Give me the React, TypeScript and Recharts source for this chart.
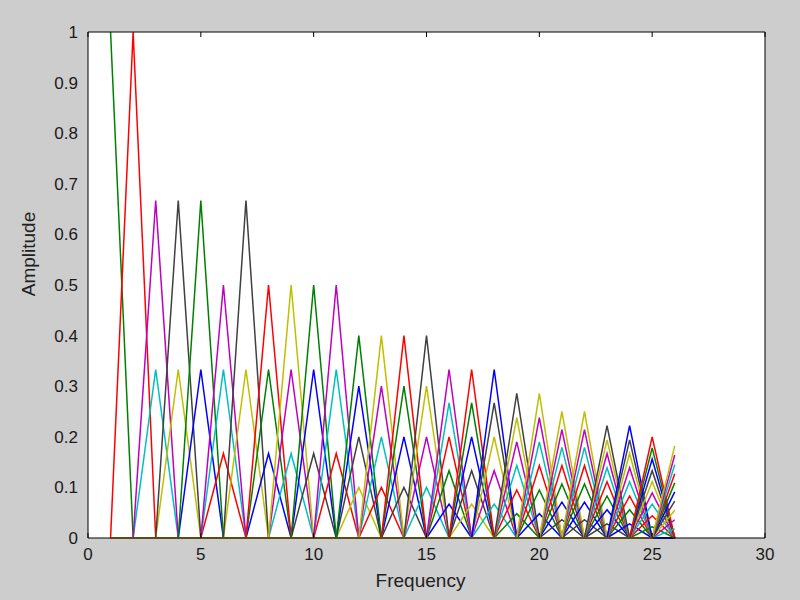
import { LineChart, Line, XAxis, YAxis } from "recharts";

// frequency bins where each triangle peaks
const bins = [
  1, 2, 3, 4, 5, 6, 7, 8, 9, 10, 11, 12, 13, 14, 15, 16, 17, 18, 19, 20, 21,
  22, 23, 24, 25, 26,
];

// heights of the triangles that peak at each bin (lowest first)
const tentHeights: number[][] = [
  [1],
  [1],
  [0.333, 0.667],
  [0.333, 0.667],
  [0.333, 0.667],
  [0.167, 0.333, 0.5],
  [0.333, 0.667],
  [0.167, 0.333, 0.5],
  [0.167, 0.333, 0.5],
  [0.167, 0.333, 0.5],
  [0.167, 0.333, 0.5],
  [0.1, 0.2, 0.3, 0.4],
  [0.1, 0.2, 0.3, 0.4],
  [0.1, 0.2, 0.3, 0.4],
  [0.1, 0.2, 0.3, 0.4],
  [0.067, 0.133, 0.2, 0.267, 0.333],
  [0.067, 0.133, 0.2, 0.267, 0.333],
  [0.067, 0.133, 0.2, 0.267, 0.333],
  [0.048, 0.095, 0.143, 0.19, 0.238, 0.286],
  [0.048, 0.095, 0.143, 0.19, 0.238, 0.286],
  [0.036, 0.071, 0.107, 0.143, 0.179, 0.214, 0.25],
  [0.036, 0.071, 0.107, 0.143, 0.179, 0.214, 0.25],
  [0.028, 0.056, 0.083, 0.111, 0.139, 0.167, 0.194, 0.222],
  [0.028, 0.056, 0.083, 0.111, 0.139, 0.167, 0.194, 0.222],
  [0.022, 0.044, 0.067, 0.089, 0.111, 0.133, 0.156, 0.178, 0.2],
  [0.018, 0.036, 0.055, 0.073, 0.091, 0.109, 0.127, 0.145, 0.164, 0.182],
];

const xTicks = [0, 5, 10, 15, 20, 25, 30];
const yTicks = [0, 0.1, 0.2, 0.3, 0.4, 0.5, 0.6, 0.7, 0.8, 0.9, 1];

// old matlab line color order: b g r c m y k
const lineColors = [
  "#0000ff",
  "#008000",
  "#ff0000",
  "#00bfbf",
  "#bf00bf",
  "#bfbf00",
  "#404040",
];

type Tent = { key: string; bin: number; height: number; color: string };

const tents: Tent[] = [];
let seq = 0;
bins.forEach((b, i) => {
  tentHeights[i].forEach((h) => {
    seq++;
    tents.push({ key: `t${seq}`, bin: b, height: h, color: lineColors[seq % 7] });
  });
});

const rows = bins.map((x) => {
  const r: Record<string, number> = { x };
  tents.forEach((t) => {
    r[t.key] = t.bin === x ? t.height : 0;
  });
  return r;
});

const font = "'Liberation Sans', Arial, sans-serif";
const noLabel = () => "";

export default function App() {
  return (
    <div
      style={{
        position: "fixed",
        left: 0,
        top: 0,
        width: 800,
        height: 600,
        background: "#cdcdcd",
        fontFamily: font,
      }}
    >
      {/* white axes background, placed under the svg so tick marks stay visible */}
      <div
        style={{
          position: "absolute",
          left: 88,
          top: 32,
          width: 677,
          height: 506,
          background: "#ffffff",
        }}
      />
      <div style={{ position: "absolute", left: 0, top: 0 }}>
        <LineChart
          width={800}
          height={600}
          data={rows}
          margin={{ top: 32, right: 35, bottom: 8, left: 0 }}
        >
          {/* inward tick marks on all four sides (matlab box) */}
          <XAxis
            xAxisId="bt"
            dataKey="x"
            type="number"
            domain={[0, 30]}
            ticks={xTicks}
            height={1}
            mirror
            tickSize={5}
            axisLine={false}
            stroke="#000"
            tickFormatter={noLabel}
          />
          <XAxis
            xAxisId="b"
            dataKey="x"
            type="number"
            domain={[0, 30]}
            ticks={xTicks}
            height={54}
            tickLine={false}
            tickSize={0}
            tickMargin={10}
            stroke="#000"
            tick={{ fill: "#1a1a1a", fontSize: 17, fontFamily: font }}
            label={{
              value: "Frequency",
              position: "insideBottom",
              offset: 5,
              dx: -6,
              fill: "#222",
              fontSize: 19,
              fontFamily: font,
            }}
          />
          <XAxis
            xAxisId="t"
            orientation="top"
            dataKey="x"
            type="number"
            domain={[0, 30]}
            ticks={xTicks}
            height={1}
            mirror
            tickSize={5}
            stroke="#000"
            tickFormatter={noLabel}
          />
          <YAxis
            yAxisId="lt"
            type="number"
            domain={[0, 1]}
            ticks={yTicks}
            width={1}
            mirror
            tickSize={5}
            axisLine={false}
            stroke="#000"
            tickFormatter={noLabel}
          />
          <YAxis
            yAxisId="l"
            type="number"
            domain={[0, 1]}
            ticks={yTicks}
            width={88}
            tickLine={false}
            tickSize={0}
            tickMargin={10}
            stroke="#000"
            tick={{ fill: "#1a1a1a", fontSize: 17, fontFamily: font }}
            label={{
              value: "Amplitude",
              angle: -90,
              position: "insideLeft",
              offset: 28,
              dy: -31,
              fill: "#222",
              fontSize: 19,
              fontFamily: font,
              style: { textAnchor: "middle" },
            }}
          />
          <YAxis
            yAxisId="r"
            orientation="right"
            type="number"
            domain={[0, 1]}
            ticks={yTicks}
            width={1}
            mirror
            tickSize={5}
            stroke="#000"
            tickFormatter={noLabel}
          />
          {tents.map((t) => (
            <Line
              key={t.key}
              xAxisId="b"
              yAxisId="l"
              dataKey={t.key}
              stroke={t.color}
              strokeWidth={1.5}
              dot={false}
              activeDot={false}
              isAnimationActive={false}
            />
          ))}
        </LineChart>
      </div>
    </div>
  );
}
